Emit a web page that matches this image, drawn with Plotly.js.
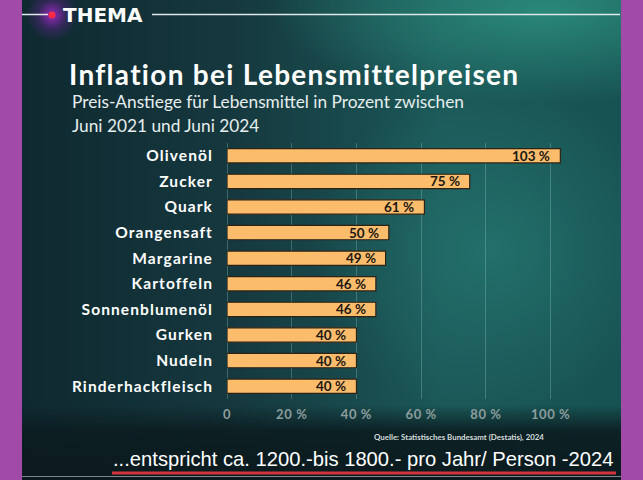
<!DOCTYPE html>
<html><head><meta charset="utf-8">
<script src="https://cdn.plot.ly/plotly-3.0.1.min.js"></script>
<style>
html,body{margin:0;padding:0;background:#a24aa8;}
#wrap{position:relative;width:643px;height:480px;background:#a24aa8;overflow:hidden;}
#bg{position:absolute;left:22px;top:0;width:599px;height:480px;
background:
 radial-gradient(circle 26px at 30px 15px, rgba(190,40,230,0.75), rgba(150,30,200,0.25) 55%, rgba(120,20,180,0) 100%),
 radial-gradient(ellipse 240px 220px at 470px 250px, rgba(40,128,120,0.6), rgba(40,128,120,0) 75%),
 radial-gradient(ellipse 320px 110px at 520px 10px, rgba(45,145,128,0.85), rgba(45,145,128,0) 85%),
 linear-gradient(90deg, #0f2930 0%, #15383e 35%, #1b5858 70%, #175252 100%);}
#bottom{position:absolute;left:22px;top:405px;width:599px;height:75px;background:linear-gradient(180deg, rgba(11,26,30,0) 0%, rgba(11,28,32,0.9) 35%, #0b1a1e 100%);}
#chart{position:absolute;left:0;top:0;width:643px;height:480px;}
.gtitle{letter-spacing:1.3px;}
.ytick text{letter-spacing:1.1px;}
.xtick text{letter-spacing:0.6px;}
</style></head>
<body>
<div id="wrap"><div id="bg"></div><div id="bottom"></div><div id="chart"></div></div>
<script>
const categories = ["Olivenöl","Zucker","Quark","Orangensaft","Margarine","Kartoffeln","Sonnenblumenöl","Gurken","Nudeln","Rinderhackfleisch"];
const values = [103,75,61,50,49,46,46,40,40,40];
const tickVals = [0,20,40,60,80,100];
const tickLabels = ["0","20 %","40 %","60 %","80 %","100 %"];
const titleText = "Inflation bei Lebensmittelpreisen";
const subtitle1 = "Preis-Anstiege für Lebensmittel in Prozent zwischen";
const subtitle2 = "Juni 2021 und Juni 2024";
const sourceText = "Quelle: Statistisches Bundesamt (Destatis), 2024";
const captionText = "...entspricht ca. 1200.-bis 1800.- pro Jahr/ Person -2024";
const badgeText = "THEMA";

const W=643,H=480,L=227,R=60,T=143,B=81;
const pw=W-L-R, ph=H-T-B;
const px=x=>(x-L)/pw, py=y=>1-(y-T)/ph;
const FF="Lato, 'DejaVu Sans', sans-serif";

const trace={type:'bar',orientation:'h',x:values,y:categories,width:0.56,
  marker:{color:'#fbbd6c',line:{color:'#2e2214',width:1.2}},hoverinfo:'none'};

const ann=[];
categories.forEach((c,i)=>ann.push({x:values[i],y:c,xref:'x',yref:'y',text:values[i]+' %',showarrow:false,
  xanchor:'right',yanchor:'middle',xshift:-8,font:{family:FF,size:13.5,color:'#1c1712',weight:'bold'}}));
function txt(t,x,y,anchor,font){ann.push({text:t,x:px(x),y:py(y),xref:'paper',yref:'paper',showarrow:false,xanchor:anchor,yanchor:'middle',font:font});}
txt(badgeText,61,15,'left',{family:"'DejaVu Sans', sans-serif",size:20,color:'#ffffff',weight:'bold'});
txt(subtitle1,70,101,'left',{family:FF,size:17.3,color:'#e6eeee'});
txt(subtitle2,70,125,'left',{family:FF,size:17.3,color:'#e6eeee'});
txt(sourceText,372,437,'left',{family:FF,size:7.9,color:'#d4dcdc',weight:'bold'});
txt(captionText,615,459,'right',{family:"'Liberation Sans', Arial, sans-serif",size:20.2,color:'#ffffff'});

function line(x0,y0,x1,y1,color,w){return {type:'line',xref:'paper',yref:'paper',x0:px(x0),x1:px(x1),y0:py(y0),y1:py(y1),line:{color:color,width:w}};}
const shapes=[
  line(22,14.5,48,14.5,'#dfe8e8',1.5),
  line(152,14.5,620,14.5,'#dfe8e8',1.5),
  line(112,473,616,473,'#d2343c',3),
  line(22,476.5,621,476.5,'#7d8686',1),
  {type:'circle',xref:'paper',yref:'paper',x0:px(48.5),x1:px(55.5),y0:py(18.5),y1:py(11.5),fillcolor:'#ff2a48',line:{width:0}}
];

const layout={width:W,height:H,margin:{l:L,r:R,t:T,b:B,pad:0},
  paper_bgcolor:'rgba(0,0,0,0)',plot_bgcolor:'rgba(0,0,0,0)',showlegend:false,
  title:{text:titleText,xref:'container',yref:'container',x:69/W,y:1-75/H,xanchor:'left',yanchor:'middle',
    font:{family:FF,size:28,color:'#ffffff',weight:'bold'}},
  xaxis:{range:[0,110],tickvals:tickVals,ticktext:tickLabels,showgrid:true,gridcolor:'rgba(150,205,205,0.32)',gridwidth:1,
    zeroline:true,zerolinecolor:'rgba(150,205,205,0.32)',zerolinewidth:1,showline:false,ticks:'',ticklabelstandoff:6,
    tickfont:{family:FF,size:13,color:'#8d9d9d',weight:'bold'},fixedrange:true},
  yaxis:{type:'category',autorange:'reversed',showgrid:false,zeroline:false,showline:false,ticks:'',ticklabelstandoff:13,
    tickfont:{family:FF,size:15.5,color:'#ffffff',weight:'bold'},fixedrange:true},
  annotations:ann,shapes:shapes,bargap:0.44};
Plotly.newPlot('chart',[trace],layout,{displayModeBar:false,staticPlot:true});
</script></body></html>
